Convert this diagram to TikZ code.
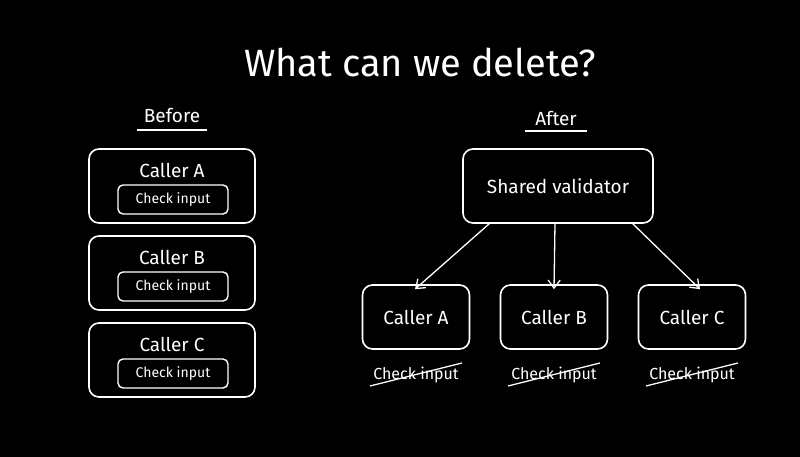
\documentclass[tikz,border=0pt]{standalone}
\usepackage{fontspec}
\setmainfont{Fira Sans}
\usetikzlibrary{arrows.meta}

\tikzset{
  box/.style={draw=white, line width=1.6pt, rounded corners=10pt, text=white},
  inbox/.style={draw=white, line width=1.4pt, rounded corners=5pt, text=white, font=\fontsize{14}{16}\selectfont},
  lbl/.style={text=white, font=\fontsize{19}{22}\selectfont},
  gone/.style={text=white, font=\fontsize{16}{18}\selectfont},
  link/.style={draw=white, line width=1.3pt, -{Straight Barb[length=8pt,width=12pt]}},
}

\begin{document}
\begin{tikzpicture}[x=1pt, y=-1pt]
\fill[black] (0,0) rectangle (800,457);
\useasboundingbox (0,0) rectangle (800,457);

\node[text=white, font=\fontsize{38}{44}\selectfont] (title) at (420,62) {What can we delete?};

% before
\node[lbl] (before) at (172,115) {Before};
\draw[white, line width=1.3pt] (137,130) -- (207,130);
\foreach \n/\y in {A/149,B/236,C/323} {
  \draw[box] (89,\y) rectangle (255,\y+74);
  \node[lbl] (old\n) at (172,\y+21) {Caller \n};
  \draw[inbox] (118,\y+36) rectangle (228,\y+65);
  \node[inbox, draw=none] (oldchk\n) at (173,\y+51) {Check input};
}

% after
\node[lbl] (after) at (556,118) {After};
\draw[white, line width=1.3pt] (525,131) -- (587,131);
\node[box, lbl, minimum width=190pt, minimum height=74pt] (shared) at (558,186) {Shared validator};
\foreach \n/\x in {A/416,B/554,C/692} {
  \node[box, lbl, minimum width=107pt, minimum height=64pt] (new\n) at (\x,317) {Caller \n};
  \node[gone] (chk\n) at (\x,375) {Check input};
  \draw[white, line width=1.3pt] (\x-46,386) -- (\x+46,363);
}
\draw[link] (shared.south west) ++(27,0) -- ([xshift=-1pt,yshift=-5pt]newA.north);
\draw[link] (shared.south) ++(-3,0) -- ([yshift=-5pt]newB.north);
\draw[link] (shared.south east) ++(-21,0) -- ([xshift=8pt,yshift=-5pt]newC.north);
\end{tikzpicture}
\end{document}
